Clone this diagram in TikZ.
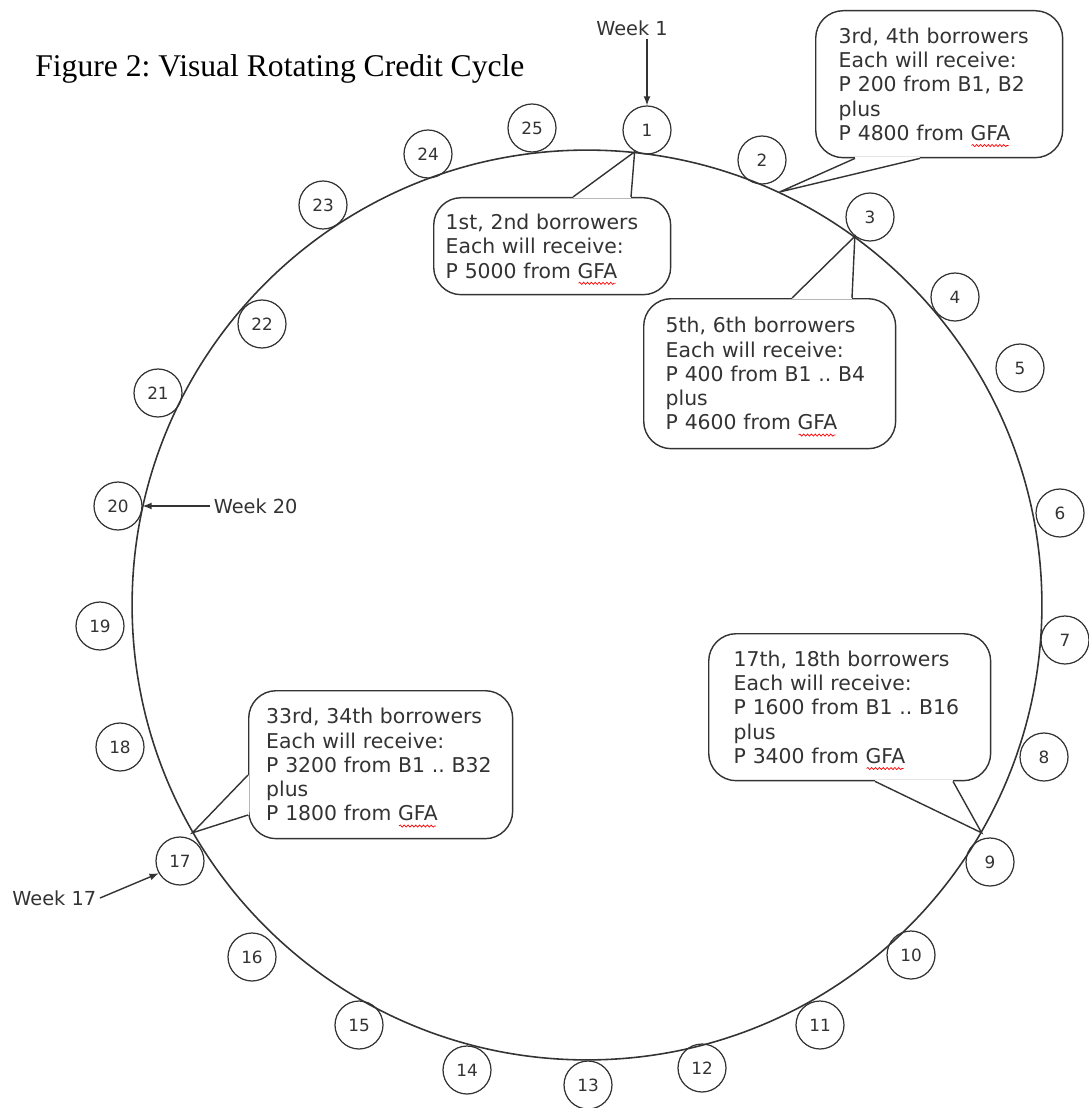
\documentclass[tikz,border=0pt]{standalone}
\usepackage{fontspec}
\usetikzlibrary{decorations.pathmorphing}
\setmainfont{Liberation Serif}
\newfontfamily\verd{DejaVu Sans}
\definecolor{ink}{HTML}{333333}
\frenchspacing
% red spell-check wave under GFA
\newcommand{\gfa}{GFA\tikz[overlay, baseline=0pt, x=1pt, y=1pt, sharp corners]
  \draw[red, fill=none, line width=0.4pt, decorate, decoration={snake, amplitude=0.6pt, segment length=2.2pt}] (-22pt,-3pt) -- (-1pt,-3pt);}

\begin{document}
\begin{tikzpicture}[
    >=latex,
    x=0.02cm, y=-0.02cm,
    every node/.style={font=\verd\fontsize{11.6}{13.8}\selectfont, text=ink},
    slot/.style={draw=ink, circle, line width=0.7pt, minimum size=0.96cm, inner sep=0pt, font=\verd\fontsize{9.6}{10}\selectfont},
    callbox/.style={draw=ink, fill=white, line width=0.8pt, rounded corners=0.55cm, align=left, anchor=north west},
    pointer/.style={draw=ink, line width=0.8pt},
    gap/.style={draw=white, line width=1.6pt},
    weeklabel/.style={inner sep=2pt, font=\verd\fontsize{11}{13}\selectfont},
    weekarrow/.style={->, draw=ink, line width=0.8pt}
  ]
  \useasboundingbox (0,0) rectangle (1088,1108);

  % Title
  \node[anchor=base west, inner sep=0pt, text=black, font=\rmfamily\fontsize{18}{22}\selectfont] (title) at (35,77) {Figure 2: Visual Rotating Credit Cycle};

  % The cycle
  \node[draw=ink, circle, line width=0.9pt, minimum size=18.2cm, inner sep=0pt] (wheel) at (587,605) {};

  % Weeks round the cycle
  \foreach \n/\x/\y in {1/647/130, 2/762/160, 3/870/217, 4/955/297, 5/1020/368,
      6/1060/513, 7/1065/640, 8/1044/757, 9/990/862, 10/911/955,
      11/820/1025, 12/702/1068, 13/588/1085, 14/467/1070, 15/359/1025,
      16/252/957, 17/180/861, 18/120/747, 19/100/626, 20/118/506,
      21/158/393, 22/262/324, 23/323/205, 24/428/154, 25/532/128}
    \node[slot] (w\n) at (\x,\y) {\n};

  % Week markers
  \node[weeklabel] (wk1) at (632,28) {Week 1};
  \draw[weekarrow] (wk1.south -| w1.north) -- (w1.north);
  \node[weeklabel, anchor=west] (wk20) at (210,506) {Week 20};
  \draw[weekarrow] (wk20.west) -- (w20.east);
  \node[weeklabel, anchor=east] (wk17) at (100,898) {Week 17};
  \draw[weekarrow] (wk17.east) -- (w17.210);

  % Callouts
  \node[callbox, text width=4.26cm, inner xsep=0.24cm, minimum height=1.94cm] (cA) at (433,197)
    {1st, 2nd borrowers\\Each will receive:\\P 5000 from \gfa};
  \draw[gap] (573,0 |- cA.north) -- (631,0 |- cA.north);
  \draw[pointer] (573,0 |- cA.north) -- (wheel.84) -- (631,0 |- cA.north);

  \node[callbox, text width=4.02cm, inner xsep=0.46cm, minimum height=2.94cm] (cB) at (815,10)
    {3rd, 4th borrowers\\Each will receive:\\P 200 from B1, B2\\plus\\P 4800 from \gfa};
  \draw[gap] (855,0 |- cB.south) -- (920,0 |- cB.south);
  \draw[pointer] (855,0 |- cB.south) -- (wheel.65) -- (920,0 |- cB.south);

  \node[callbox, text width=4.16cm, inner xsep=0.44cm, minimum height=3.0cm] (cC) at (643,298)
    {5th, 6th borrowers\\Each will receive:\\P 400 from B1 .. B4\\plus\\P 4600 from \gfa};
  \draw[gap] (792,0 |- cC.north) -- (852,0 |- cC.north);
  \draw[pointer] (792,0 |- cC.north) -- (wheel.54) -- (852,0 |- cC.north);

  \node[callbox, text width=4.64cm, inner xsep=0.5cm, minimum height=2.94cm] (cD) at (708,633)
    {17th, 18th borrowers\\Each will receive:\\P 1600 from B1 .. B16\\plus\\P 3400 from \gfa};
  \draw[gap] (875,0 |- cD.south) -- (953,0 |- cD.south);
  \draw[pointer] (875,0 |- cD.south) -- (wheel.-30.5) -- (953,0 |- cD.south);

  \node[callbox, text width=4.58cm, inner xsep=0.35cm, minimum height=2.96cm] (cE) at (248,690)
    {33rd, 34th borrowers\\Each will receive:\\P 3200 from B1 .. B32\\plus\\P 1800 from \gfa};
  \draw[gap] (cE.west |- 0,775) -- (cE.west |- 0,815);
  \draw[pointer] (cE.west |- 0,775) -- (wheel.210) -- (cE.west |- 0,815);

\end{tikzpicture}
\end{document}
